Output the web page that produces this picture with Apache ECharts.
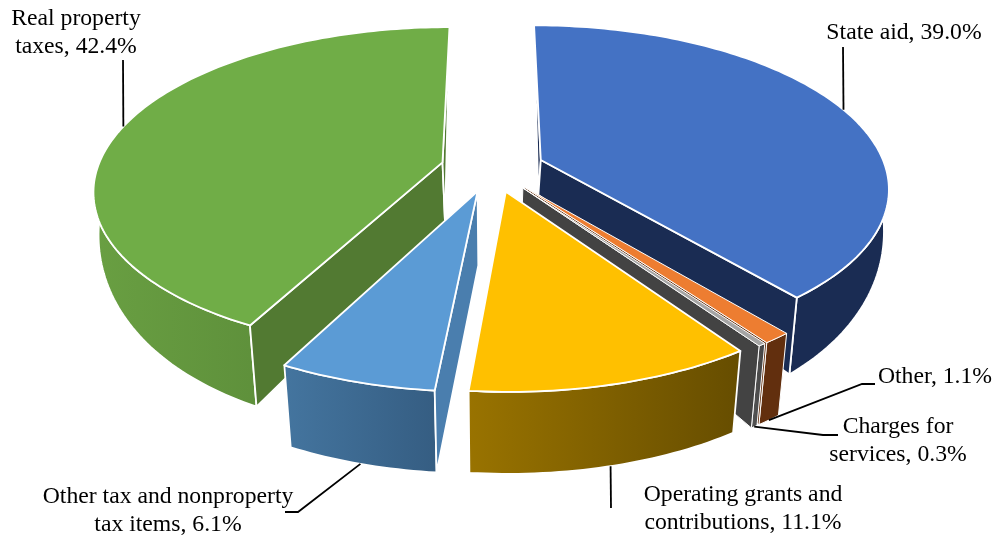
<!DOCTYPE html>
<html>
<head>
<meta charset="utf-8">
<title>Revenue sources</title>
<script src="https://cdn.jsdelivr.net/npm/echarts@6/dist/echarts.min.js"></script>
<style>
  html, body { margin: 0; padding: 0; background: #fff; }
  #chart { width: 995px; height: 535px; }
</style>
</head>
<body>
<div id="chart"></div>
<script>
// data, clockwise from 12 o'clock
const categories = ['State aid', 'Other', 'Charges for\nservices', 'Operating grants and\ncontributions', 'Other tax and nonproperty\ntax items', 'Real property\ntaxes']
const shares = [39.0, 1.1, 0.3, 11.1, 6.1, 42.4]

// top face, radial wall, outer wall gradient (left to right)
const topColors = ['#4472C4', '#ED7D31', '#A5A5A5', '#FFC000', '#5B9BD5', '#70AD47']
const wallColors = ['#1A2C53', '#622F0E', '#434343', '#664D00', '#4A7EAE', '#527A32']
const rimFrom = ['#1A2C53', '#622F0E', '#565656', '#997300', '#44759F', '#699F42']
const rimTo = ['#1A2C53', '#622F0E', '#434343', '#664D00', '#355D82', '#527F33']

// label centre and leader elbow points
const labelCentres = [[904, 33], [935, 377], [898, 441], [743, 509], [168, 511], [76, 33]]
const leaderPoints = [
  [[843, 47]],
  [[862, 384], [875, 384]],
  [[823, 435], [838, 435]],
  [[611, 508]],
  [[298, 512], [285, 512]],
  [[123, 60]],
]

// projection fitted to the picture
const cx = 492.5
const cy = 168
const Rx = 345
const Ry = 159
const persp = 0.163
const explode = 0.15
// how far each slice's inner corner drops to the floor
const apexDrops = [35, 40, 45, 60, 74, 60]

const total = shares.reduce((a, b) => a + b, 0)
let acc = 0
const slices = shares.map((v) => {
  const start = (acc / total) * Math.PI * 2
  acc += v
  const end = (acc / total) * Math.PI * 2
  const mid = (start + end) / 2
  return { start, end, mid, du: explode * Math.sin(mid), dv: explode * Math.cos(mid) }
})

// back slices get painted first
const drawOrder = slices.map((s, i) => i).sort((a, b) => slices[b].dv - slices[a].dv)

function wallHeight(v) {
  const t = Math.max(0, (v + 0.9) / 1.45)
  return Math.max(0, 82 * (1 - Math.pow(t, 1.32)))
}

function topPoint(u, v) {
  const s = 1 / (1 + persp * v)
  return [cx + Rx * u * s, cy - Ry * v * s]
}

function floorPoint(u, v) {
  const s = 1 / (1 + persp * v)
  const shrink = Math.min(1, 0.99 + 0.02 * v)
  return [cx + shrink * Rx * u * s, cy - Ry * v * s + wallHeight(v)]
}

function rimUV(slice, a) {
  return [slice.du + Math.sin(a), slice.dv + Math.cos(a)]
}

function arcUV(slice) {
  const steps = Math.max(2, Math.ceil((slice.end - slice.start) / 0.02))
  const pts = []
  for (let i = 0; i <= steps; i++) {
    pts.push(rimUV(slice, slice.start + ((slice.end - slice.start) * i) / steps))
  }
  return pts
}

function signedArea(points) {
  let sum = 0
  points.forEach((p, i) => {
    const q = points[(i + 1) % points.length]
    sum += p[0] * q[1] - q[0] * p[1]
  })
  return sum
}

function face(points, fill, lineWidth) {
  return {
    type: 'polygon',
    shape: { points },
    style: { fill, stroke: '#fff', lineWidth, lineJoin: 'round' },
  }
}

function renderSlice(params, api) {
  const i = api.value(0)
  const slice = slices[i]
  const arc = arcUV(slice)
  const topArc = arc.map((p) => topPoint(p[0], p[1]))
  const floorArc = arc.map((p) => floorPoint(p[0], p[1]))
  const apexTop = topPoint(slice.du, slice.dv)
  const apexFloor = [cx + (apexTop[0] - cx) * 0.95, apexTop[1] + apexDrops[i]]
  const lw = api.value(1) < 1.5 ? 1 : 1.8
  const rimFill = new echarts.graphic.LinearGradient(0, 0, 1, 0, [
    { offset: 0, color: rimFrom[i] },
    { offset: 1, color: rimTo[i] },
  ])
  const startWall = [apexTop, topArc[0], floorArc[0], apexFloor]
  const endWall = [apexTop, topArc[topArc.length - 1], floorArc[floorArc.length - 1], apexFloor]

  const children = [face(topArc.concat(floorArc.slice().reverse()), rimFill, lw)]
  if (signedArea(startWall) < 0) children.push(face(startWall, wallColors[i], lw))
  if (signedArea(endWall) > 0) children.push(face(endWall, wallColors[i], lw))
  children.push(face([apexTop].concat(topArc), topColors[i], lw))
  return { type: 'group', children }
}

function renderLabel(params, api) {
  const i = api.value(0)
  const slice = slices[i]
  const p = rimUV(slice, slice.mid)
  const anchor = slice.dv < 0 ? floorPoint(p[0], p[1]) : topPoint(p[0], p[1])
  const text = `${categories[i]}, ${api.value(1).toFixed(1)}%`
  return {
    type: 'group',
    children: [
      {
        type: 'polyline',
        shape: { points: [anchor].concat(leaderPoints[i]) },
        style: { fill: 'none', stroke: '#000', lineWidth: 1.8 },
      },
      {
        type: 'text',
        style: {
          text,
          x: labelCentres[i][0],
          y: labelCentres[i][1],
          align: 'center',
          verticalAlign: 'middle',
          font: '23.7px "Liberation Serif"',
          lineHeight: 28,
          fill: '#000',
        },
      },
    ],
  }
}

const chart = echarts.init(document.getElementById('chart'), undefined, { renderer: 'canvas' })
chart.setOption({
  backgroundColor: '#fff',
  animation: false,
  series: [
    {
      type: 'custom',
      coordinateSystem: 'none',
      renderItem: renderSlice,
      data: drawOrder.map((i) => [i, shares[i]]),
    },
    {
      type: 'custom',
      coordinateSystem: 'none',
      renderItem: renderLabel,
      data: shares.map((v, i) => [i, v]),
      z: 3,
    },
  ],
})
</script>
</body>
</html>
